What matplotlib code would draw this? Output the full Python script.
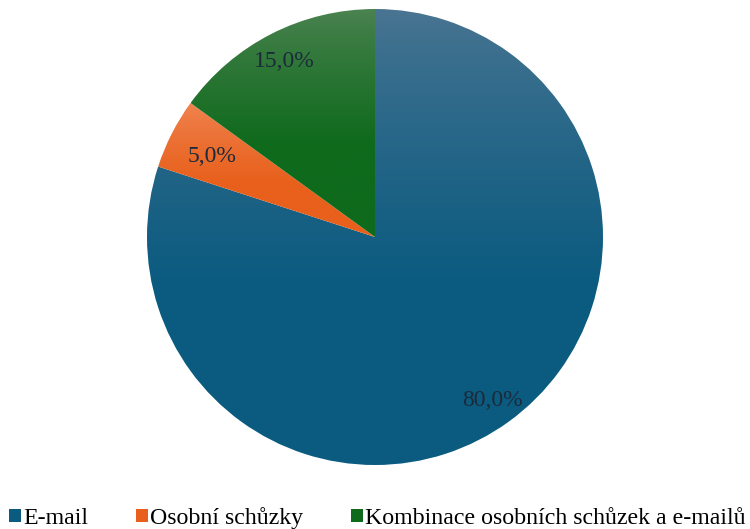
import numpy as np
import matplotlib
matplotlib.use('Agg')
import matplotlib.pyplot as plt
from matplotlib.colors import to_rgb
from matplotlib.patches import Patch

labels = ['E-mail', 'Osobní schůzky', 'Kombinace osobních schůzek a e-mailů']
values = [80.0, 5.0, 15.0]

TOP_COLORS = ['#4a7592', '#f08552', '#4c8352']
BASE_COLORS = ['#0b5b80', '#e8601c', '#0f6a1c']
LABEL_DIST = [0.875, 0.80, 0.875]
TEXT_COLOR = '#1c2a3a'

plt.rcParams['font.family'] = ['Liberation Serif', 'DejaVu Serif']

W, H = 750, 529
fig = plt.figure(figsize=(W / 100, H / 100), dpi=100)
ax = fig.add_axes([0, 0, 1, 1])

cx, cy, R = 375, H - 237, 228
wedges, _ = ax.pie(values, startangle=90, counterclock=False,
                   center=(cx, cy), radius=R, colors=BASE_COLORS,
                   wedgeprops=dict(linewidth=0), frame=True)

# vertical gradient fill clipped to each wedge (lighter at top)
for w, top, base in zip(wedges, TOP_COLORS, BASE_COLORS):
    bb = w.get_path().get_extents()
    t = np.linspace(0, 1, 256)
    t = np.clip(t / 0.6, 0, 1) ** 0.8
    c0, c1 = np.array(to_rgb(top)), np.array(to_rgb(base))
    img = (c0[None, :] * (1 - t[:, None]) + c1[None, :] * t[:, None])[:, None, :]
    im = ax.imshow(img, extent=(bb.x0, bb.x1, bb.y0, bb.y1), origin='upper',
                   aspect='auto', interpolation='bilinear', zorder=2)
    im.set_clip_path(w)
    w.set_facecolor('none')
ax.set_xlim(0, W)
ax.set_ylim(0, H)
ax.axis('off')

# percentage labels
for w, v, d in zip(wedges, values, LABEL_DIST):
    ang = np.deg2rad((w.theta1 + w.theta2) / 2)
    ax.text(cx + d * R * np.cos(ang), cy + d * R * np.sin(ang) - 2,
            f'{v:.1f}'.replace('.', ',') + '%', ha='center', va='center',
            fontsize=17, color=TEXT_COLOR, zorder=5)

handles = [Patch(facecolor=c, edgecolor='none') for c in BASE_COLORS]
fig.legend(handles, labels, loc='lower center', bbox_to_anchor=(0.503, -0.018),
           ncol=3, frameon=False, fontsize=17.2, handlelength=0.5, handleheight=0.5,
           handletextpad=0.1, columnspacing=2.0, borderaxespad=0)

fig.savefig('out.png', dpi=100, facecolor='white')
